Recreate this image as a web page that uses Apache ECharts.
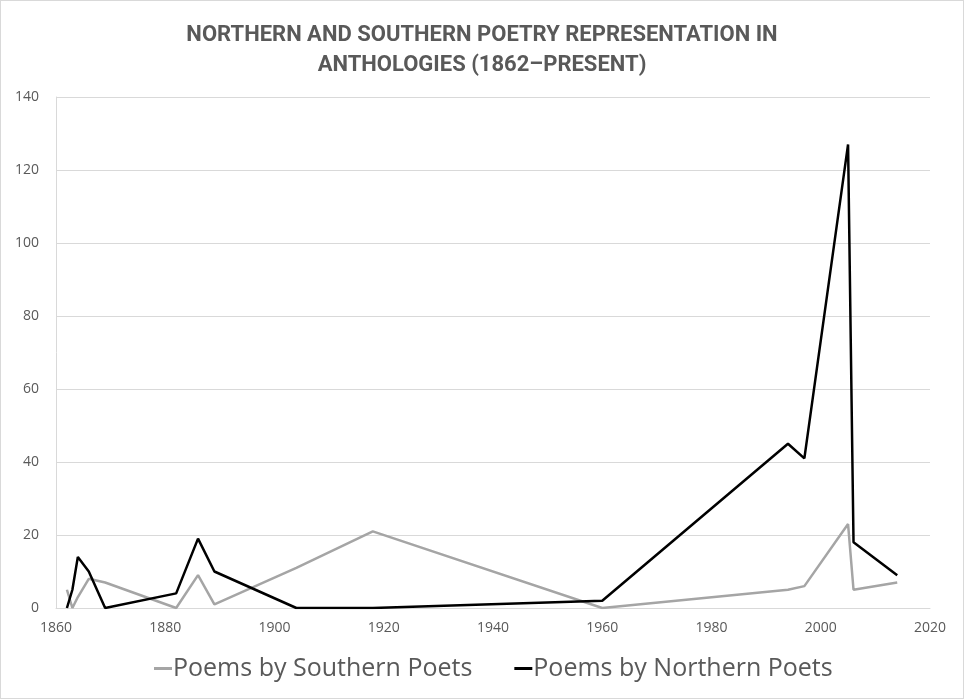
<!DOCTYPE html>
<html>
<head>
<meta charset="utf-8">
<script src="https://cdn.jsdelivr.net/npm/echarts@6/dist/echarts.min.js"></script>
<style>
	html, body { margin: 0; padding: 0; background: #fff; }
	#main { width: 962px; height: 697px; border: 1px solid #d9d9d9; }
</style>
</head>
<body>
<div id="main"></div>
<script>
	// anthology years
	var years = [1862, 1863, 1864, 1866, 1869, 1882, 1886, 1889, 1904, 1918, 1960, 1994, 1997, 2005, 2006, 2014];
	// poems per anthology
	var southern = [5, 0, 3, 8, 7, 0, 9, 1, 11, 21, 0, 5, 6, 23, 5, 7];
	var northern = [0, 5, 14, 10, 0, 4, 19, 10, 0, 0, 2, 45, 41, 127, 18, 9];
	var seriesNames = ['Poems by Southern Poets', 'Poems by Northern Poets'];

	function pairs(vals) {
		return years.map(function (y, i) { return [y, vals[i]]; });
	}

	var myChart = echarts.init(document.getElementById('main'));
	var option = {
		animation: false,
		title: {
			text: 'NORTHERN AND SOUTHERN POETRY REPRESENTATION IN\nANTHOLOGIES (1862\u2013PRESENT)',
			left: 'center',
			top: 14,
			textStyle: {
				fontFamily: 'Roboto, sans-serif',
				fontWeight: 'bold',
				fontSize: 22,
				lineHeight: 30,
				color: '#595959'
			}
		},
		legend: {
			bottom: 12,
			left: 148,
			itemGap: 42,
			itemWidth: 18,
			icon: 'rect',
			itemHeight: 3,
			textStyle: { fontFamily: 'Open Sans, sans-serif', fontSize: 25, color: '#595959', padding: [0, 0, 0, -4] },
			data: seriesNames
		},
		grid: { left: 55, right: 33, top: 96, bottom: 90 },
		xAxis: {
			type: 'value',
			min: 1860,
			max: 2020,
			interval: 20,
			axisLine: { show: true, lineStyle: { color: '#d9d9d9' } },
			axisTick: { show: false },
			splitLine: { show: false },
			axisLabel: {
				color: '#595959', fontSize: 14, margin: 13, fontFamily: 'Open Sans, sans-serif',
				formatter: function (v) { return String(v); }
			}
		},
		yAxis: {
			type: 'value',
			min: 0,
			max: 140,
			interval: 20,
			axisLine: { show: true, lineStyle: { color: '#d9d9d9' } },
			axisTick: { show: false },
			splitLine: { lineStyle: { color: '#d9d9d9' } },
			axisLabel: { color: '#595959', fontSize: 14, margin: 17, fontFamily: 'Open Sans, sans-serif' }
		},
		series: [{
			name: seriesNames[0],
			type: 'line',
			data: pairs(southern),
			showSymbol: false,
			itemStyle: { color: '#a5a5a5' },
			lineStyle: { color: '#a5a5a5', width: 2.5 }
		}, {
			name: seriesNames[1],
			type: 'line',
			data: pairs(northern),
			showSymbol: false,
			itemStyle: { color: '#000000' },
			lineStyle: { color: '#000000', width: 2.5 }
		}]
	};
	myChart.setOption(option);
</script>
</body>
</html>
